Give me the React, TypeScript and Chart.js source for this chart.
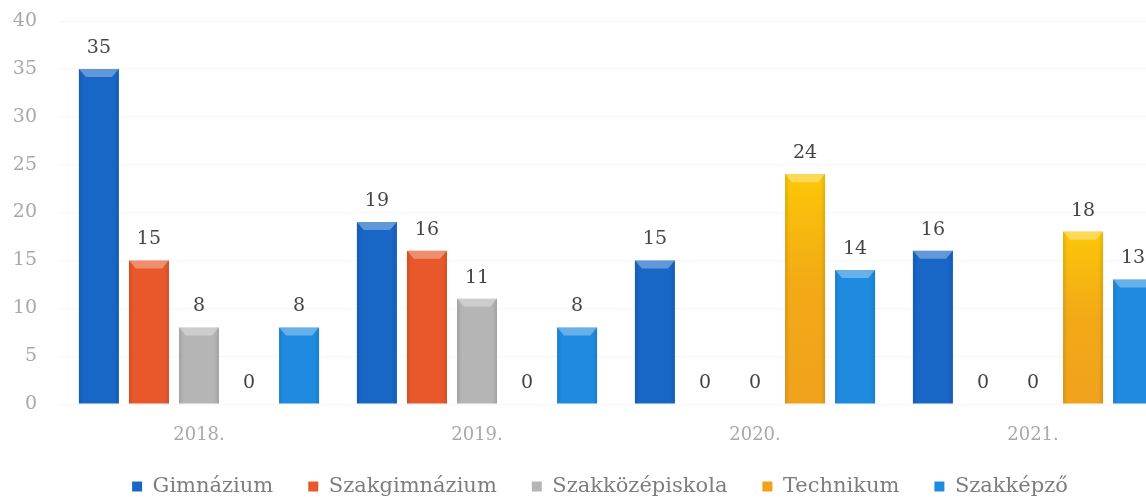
import React, { useEffect, useRef } from "react";
import { Chart, registerables } from "chart.js";

Chart.register(...registerables);

const categories = ["2018.", "2019.", "2020.", "2021."];
const seriesNames = ["Gimnázium", "Szakgimnázium", "Szakközépiskola", "Technikum", "Szakképző"];
const gimnazium = [35, 19, 15, 16];
const szakgimnazium = [15, 16, 0, 0];
const szakkozepiskola = [8, 11, 0, 0];
const technikum = [0, 0, 24, 18];
const szakkepzo = [8, 8, 14, 13];
const seriesColors = ["#1866c6", "#e8582b", "#b5b5b5", "#f0a21c", "#1f8be0"];
const yTicks = [0, 5, 10, 15, 20, 25, 30, 35, 40];

const FONT = "'DejaVu Serif', 'Liberation Serif', serif";

const bevel = {
  id: "bevel",
  afterDatasetsDraw(chart: any) {
    const ctx = chart.ctx;
    ctx.save();
    chart.data.datasets.forEach((ds: any, di: number) => {
      const meta = chart.getDatasetMeta(di);
      meta.data.forEach((el: any) => {
        const h = el.base - el.y;
        if (h <= 1) return;
        const l = el.x - el.width / 2;
        const r = el.x + el.width / 2;
        const t = el.y;
        if (di === 3) {
          const g = ctx.createLinearGradient(0, t, 0, el.base);
          g.addColorStop(0, "rgba(255,214,0,0.75)");
          g.addColorStop(0.5, "rgba(255,200,0,0.2)");
          g.addColorStop(1, "rgba(255,200,0,0)");
          ctx.fillStyle = g;
          ctx.fillRect(l, t, r - l, h);
        }
        const sg = ctx.createLinearGradient(l, 0, r, 0);
        sg.addColorStop(0, "rgba(0,0,0,0.10)");
        sg.addColorStop(0.12, "rgba(0,0,0,0)");
        sg.addColorStop(0.88, "rgba(0,0,0,0)");
        sg.addColorStop(1, "rgba(0,0,0,0.10)");
        ctx.fillStyle = sg;
        ctx.fillRect(l, t, r - l, h);
        const bh = Math.min(8, h);
        ctx.beginPath();
        ctx.moveTo(l, t);
        ctx.lineTo(r, t);
        ctx.lineTo(r - 7, t + bh);
        ctx.lineTo(l + 7, t + bh);
        ctx.closePath();
        ctx.fillStyle = "rgba(255,255,255,0.32)";
        ctx.fill();
      });
    });
    ctx.restore();
  },
};

const valueLabels = {
  id: "valueLabels",
  afterDatasetsDraw(chart: any) {
    const ctx = chart.ctx;
    ctx.save();
    ctx.font = `19px ${FONT}`;
    ctx.fillStyle = "#454545";
    ctx.textAlign = "center";
    ctx.textBaseline = "middle";
    chart.data.datasets.forEach((ds: any, di: number) => {
      const meta = chart.getDatasetMeta(di);
      meta.data.forEach((el: any, i: number) => {
        ctx.fillText(String(ds.data[i]), el.x, el.y - 21);
      });
    });
    ctx.restore();
  },
};

export default function App() {
  const ref = useRef<HTMLCanvasElement | null>(null);
  useEffect(() => {
    if (!ref.current) return;
    const values = [gimnazium, szakgimnazium, szakkozepiskola, technikum, szakkepzo];
    const chart = new Chart(ref.current, {
      type: "bar",
      data: {
        labels: categories,
        datasets: seriesNames.map((name, i) => ({
          label: name,
          data: values[i],
          backgroundColor: seriesColors[i],
          borderWidth: 0,
          categoryPercentage: 0.9,
          barPercentage: 0.8,
          yAxisID: "y",
        })),
      },
      options: {
        responsive: false,
        animation: false,
        layout: { padding: { left: 0, right: 0, top: 21, bottom: 0 } },
        plugins: {
          legend: {
            position: "bottom",
            labels: {
              boxWidth: 10,
              boxHeight: 10,
              padding: 35,
              color: "#7d7d7d",
              font: { family: FONT, size: 21 },
            },
          },
          tooltip: { enabled: false },
        },
        scales: {
          x: {
            grid: { display: false, drawTicks: false },
            border: { display: false },
            ticks: { color: "#a8a8a8", padding: 21, font: { family: FONT, size: 18 } },
            afterFit: (s: any) => {
              s.height = 37;
            },
          },
          y: {
            min: 0,
            max: 40,
            afterBuildTicks: (s: any) => {
              s.ticks = yTicks.map((v) => ({ value: v }));
            },
            grid: { color: "rgba(0,0,0,0.035)", drawTicks: false },
            border: { display: false },
            ticks: { color: "#a8a8a8", padding: 23, font: { family: FONT, size: 19 } },
            afterFit: (s: any) => {
              s.width = 60;
              s.paddingTop = 0;
              s.paddingBottom = 0;
            },
          },
          y2: {
            type: "linear",
            position: "right",
            min: 0,
            max: 40,
            grid: { display: false, drawTicks: false },
            border: { display: false },
            ticks: { display: false },
            afterFit: (s: any) => {
              s.width = 28;
              s.paddingTop = 0;
              s.paddingBottom = 0;
            },
          },
        },
      },
      plugins: [bevel, valueLabels],
    });
    return () => chart.destroy();
  }, []);
  return (
    <div
      style={{
        position: "fixed",
        left: 0,
        top: 0,
        width: 1146,
        height: 499,
        overflow: "hidden",
        background: "#fff",
      }}
    >
      <canvas ref={ref} width={1200} height={507} style={{ display: "block" }} />
    </div>
  );
}
